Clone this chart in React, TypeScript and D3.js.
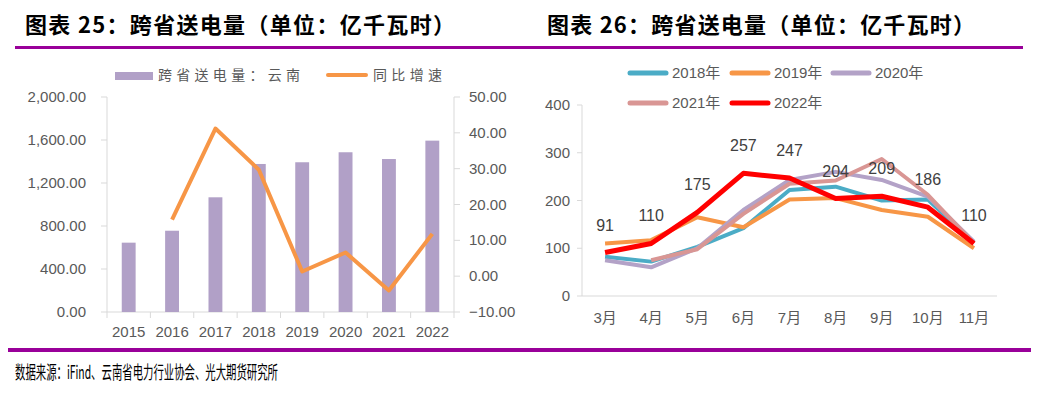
import React from 'react';
import * as d3 from 'd3';

const years = ['2015', '2016', '2017', '2018', '2019', '2020', '2021', '2022'];
const yunnanSend = [645, 756, 1067, 1377, 1393, 1486, 1423, 1594];
const yoyGrowth: Array<number | null> = [null, 15.8, 41.2, 29.7, 1.3, 6.6, -4.0, 11.8];
const leftTicks = [0, 400, 800, 1200, 1600, 2000];
const rightTicks = [-10, 0, 10, 20, 30, 40, 50];

const months = ['3月', '4月', '5月', '6月', '7月', '8月', '9月', '10月', '11月'];
const s2018 = [82, 72, 103, 142, 222, 229, 200, 202, 112];
const s2019 = [110, 117, 165, 144, 202, 205, 180, 166, 100];
const s2020 = [75, 60, 100, 180, 243, 260, 243, 208, 114];
const s2021: Array<number | null> = [null, 75, 98, 172, 235, 242, 287, 212, 110];
const s2022 = [91, 110, 175, 257, 247, 204, 209, 186, 110];
const monthTicks = [0, 100, 200, 300, 400];

const seriesList = [
  { name: '2018年', values: s2018, color: '#4bacc6', width: 4 },
  { name: '2019年', values: s2019, color: '#f79646', width: 4 },
  { name: '2020年', values: s2020, color: '#b3a2c7', width: 4 },
  { name: '2021年', values: s2021, color: '#d99694', width: 4 },
  { name: '2022年', values: s2022, color: '#ff0000', width: 5 }
];

const numFont = '"Liberation Sans", "Noto Sans CJK SC", sans-serif';
const cjkFont = '"Noto Sans CJK SC", sans-serif';
const axisColor = '#d9d9d9';
const textColor = '#595959';
const ruleColor = '#990099';

function LeftChart() {
  const x = d3.scaleBand().domain(years).range([107, 454]).padding(0);
  const yL = d3.scaleLinear().domain([0, 2000]).range([312, 97]);
  const yR = d3.scaleLinear().domain([-10, 50]).range([312, 97]);
  const barW = x.bandwidth() * 0.32;
  const fmtL = d3.format(',.2f');
  const fmtR = d3.format('.2f');

  const line = d3
    .line<number | null>()
    .defined(d => d !== null)
    .x((d, i) => (x(years[i]) || 0) + x.bandwidth() / 2)
    .y(d => yR(d as number));

  return (
    <g>
      {/* 图例 */}
      <rect x={115} y={72} width={38} height={8} fill="#b1a0c7" />
      <text x={158} y={80} fontSize={14} fill={textColor} fontFamily={cjkFont} textLength={142} lengthAdjust="spacing">
        跨省送电量：云南
      </text>
      <line x1={328} x2={366} y1={75} y2={75} stroke="#f79646" strokeWidth={4} strokeLinecap="round" />
      <text x={373} y={80} fontSize={14} fill={textColor} fontFamily={cjkFont} textLength={69} lengthAdjust="spacing">
        同比增速
      </text>

      {/* 轴线 */}
      <line x1={107} x2={107} y1={97} y2={312} stroke={axisColor} />
      <line x1={454} x2={454} y1={97} y2={312} stroke={axisColor} />
      <line x1={107} x2={454} y1={312} y2={312} stroke={axisColor} />
      {leftTicks.map(t => (
        <g key={'l' + t}>
          <line x1={101} x2={107} y1={yL(t)} y2={yL(t)} stroke={axisColor} />
          <text x={86} y={yL(t) + 5} textAnchor="end" fontSize={15} fill={textColor} fontFamily={numFont}>
            {fmtL(t)}
          </text>
        </g>
      ))}
      {rightTicks.map(t => (
        <g key={'r' + t}>
          <line x1={454} x2={460} y1={yR(t)} y2={yR(t)} stroke={axisColor} />
          <text x={469} y={yR(t) + 5} fontSize={15} fill={textColor} fontFamily={numFont}>
            {fmtR(t)}
          </text>
        </g>
      ))}
      {years.map(yr => (
        <line key={'t' + yr} x1={x(yr)} x2={x(yr)} y1={312} y2={318} stroke={axisColor} />
      ))}
      <line x1={454} x2={454} y1={312} y2={318} stroke={axisColor} />

      {/* 柱 */}
      {years.map((yr, i) => (
        <rect
          key={yr}
          x={(x(yr) || 0) + x.bandwidth() / 2 - barW / 2}
          y={yL(yunnanSend[i])}
          width={barW}
          height={yL(0) - yL(yunnanSend[i])}
          fill="#b1a0c7"
        />
      ))}
      {years.map(yr => (
        <text
          key={'x' + yr}
          x={(x(yr) || 0) + x.bandwidth() / 2}
          y={337}
          textAnchor="middle"
          fontSize={15}
          fill={textColor}
          fontFamily={numFont}
        >
          {yr}
        </text>
      ))}

      {/* 同比折线 */}
      <path d={line(yoyGrowth) || ''} fill="none" stroke="#f79646" strokeWidth={4} strokeLinejoin="round" />
    </g>
  );
}

function RightChart() {
  const x = d3.scalePoint().domain(months).range([582, 997]).padding(0.5);
  const y = d3.scaleLinear().domain([0, 400]).range([296, 105]);

  const line = d3
    .line<number | null>()
    .defined(d => d !== null)
    .x((d, i) => x(months[i]) || 0)
    .y(d => y(d as number));

  const legendPos = [
    { x: 628, y: 73 },
    { x: 730, y: 73 },
    { x: 831, y: 73 },
    { x: 628, y: 103 },
    { x: 730, y: 103 }
  ];

  return (
    <g>
      {/* 图例 */}
      {seriesList.map((s, i) => (
        <g key={'lg' + s.name}>
          <line
            x1={legendPos[i].x + 2}
            x2={legendPos[i].x + 38}
            y1={legendPos[i].y}
            y2={legendPos[i].y}
            stroke={s.color}
            strokeWidth={5}
            strokeLinecap="round"
          />
          <text x={legendPos[i].x + 44} y={legendPos[i].y + 5} fontSize={15} fill={textColor} fontFamily={numFont}>
            {s.name}
          </text>
        </g>
      ))}

      {/* 轴 */}
      <line x1={582} x2={582} y1={105} y2={296} stroke={axisColor} />
      <line x1={582} x2={997} y1={296} y2={296} stroke={axisColor} />
      {monthTicks.map(t => (
        <g key={'m' + t}>
          <line x1={577} x2={582} y1={y(t)} y2={y(t)} stroke={axisColor} />
          <text x={570} y={y(t) + 5} textAnchor="end" fontSize={15} fill={textColor} fontFamily={numFont}>
            {t}
          </text>
        </g>
      ))}
      {months.map(m => (
        <text key={m} x={x(m)} y={323} textAnchor="middle" fontSize={15} fill={textColor} fontFamily={numFont}>
          {m}
        </text>
      ))}

      {/* 折线 */}
      {seriesList.map(s => (
        <path
          key={s.name}
          d={line(s.values) || ''}
          fill="none"
          stroke={s.color}
          strokeWidth={s.width}
          strokeLinejoin="round"
        />
      ))}

      {/* 2022 数据标签 */}
      {s2022.map((v, i) => (
        <text
          key={'v' + i}
          x={x(months[i])}
          y={y(v) - 22}
          textAnchor="middle"
          fontSize={16}
          fill="#404040"
          fontFamily={numFont}
        >
          {v}
        </text>
      ))}
    </g>
  );
}

export default function App() {
  return (
    <svg
      width={1037}
      height={397}
      style={{ position: 'absolute', left: 0, top: 0, background: '#fff' }}
    >
      <text x={25} y={33} fontSize={22} fontWeight="bold" fill="#000" fontFamily={cjkFont} textLength={430} lengthAdjust="spacing">
        图表 25：跨省送电量（单位：亿千瓦时）
      </text>
      <text x={547} y={33} fontSize={22} fontWeight="bold" fill="#000" fontFamily={cjkFont} textLength={428} lengthAdjust="spacing">
        图表 26：跨省送电量（单位：亿千瓦时）
      </text>
      <rect x={15} y={46} width={1008} height={3} fill={ruleColor} />

      <LeftChart />
      <RightChart />

      <rect x={8} y={348} width={1023} height={4} fill={ruleColor} />
      <text x={15} y={379} fontSize={18} fill="#000" fontFamily={cjkFont} textLength={263} lengthAdjust="spacingAndGlyphs">
        数据来源：iFind、云南省电力行业协会、光大期货研究所
      </text>
    </svg>
  );
}
